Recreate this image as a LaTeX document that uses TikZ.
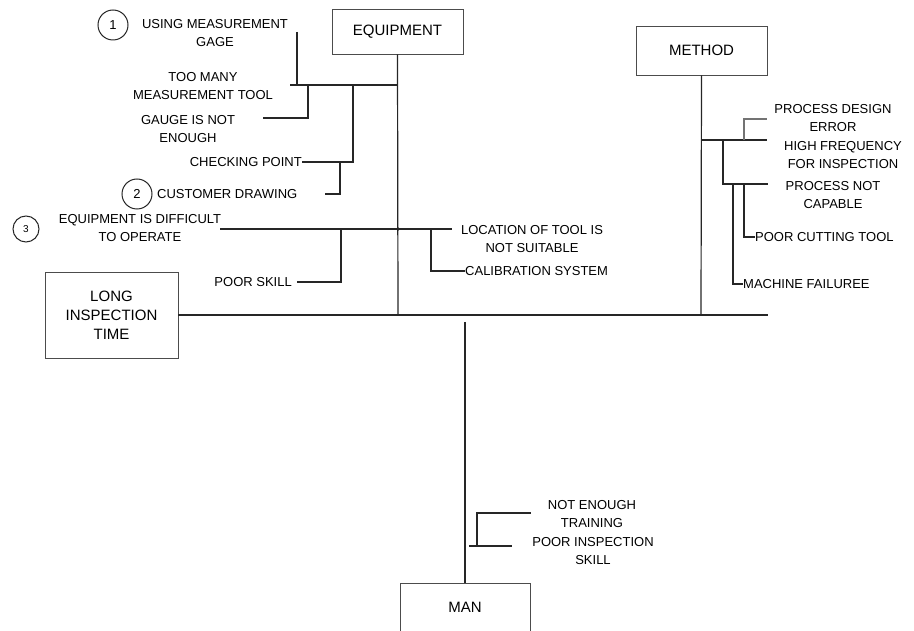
\documentclass[tikz,border=0pt]{standalone}
\usepackage{fontspec}
\setmainfont{Liberation Sans}
\begin{document}
\begin{tikzpicture}[x=1pt,y=-1pt,
  lbl/.style={font=\fontsize{13}{17.5}\selectfont, inner sep=0pt, align=center},
  boxlbl/.style={draw=black!70, line width=0.8pt, font=\fontsize{15}{19}\selectfont, align=center, inner sep=0pt},
  ln/.style={line width=1.2pt, draw=black!85},
  num/.style={circle, draw=black!85, line width=1pt, minimum size=30pt, inner sep=0pt, font=\fontsize{13}{15}\selectfont}]
\useasboundingbox (0,0) rectangle (914,631);
\clip (0,0) rectangle (914,631);

% boxes
\node[boxlbl, minimum width=131pt, minimum height=45pt] (equip) at (397.5,31.5) {EQUIPMENT};
\node[boxlbl, minimum width=131pt, minimum height=49pt] (method) at (701.5,50.5) {METHOD};
\node[boxlbl, minimum width=133pt, minimum height=86pt] (long) at (111.5,315) {LONG\\INSPECTION\\TIME};
\node[boxlbl, minimum width=130pt, minimum height=80pt] (man) at (465,623) {};
\node[lbl, font=\fontsize{15}{19}\selectfont] (manlbl) at (465,607) {MAN};

% numbered circles
\node[num] (c1) at (113,25) {1};
\node[num] (c2) at (137,194) {2};
\node[num, minimum size=26pt, font=\fontsize{10}{12}\selectfont] (c3) at (26,229) {3};

% labels
\node[lbl] (using) at (215,33) {USING MEASUREMENT\\GAGE};
\node[lbl] (toomany) at (203,86) {TOO MANY\\MEASUREMENT TOOL};
\node[lbl] (gauge) at (188,129) {GAUGE IS NOT\\ENOUGH};
\node[lbl, anchor=east] (check) at (302,162) {CHECKING POINT};
\node[lbl, anchor=west] (cust) at (157,194) {CUSTOMER DRAWING};
\node[lbl] (diff) at (140,228) {EQUIPMENT IS DIFFICULT\\TO OPERATE};
\node[lbl, anchor=east] (poorskill) at (292,282) {POOR SKILL};
\node[lbl] (loc) at (532,239) {LOCATION OF TOOL IS\\NOT SUITABLE};
\node[lbl, anchor=west] (calib) at (465,271) {CALIBRATION SYSTEM};
\node[lbl] (design) at (833,118) {PROCESS DESIGN\\ERROR};
\node[lbl] (highfreq) at (843,155) {HIGH FREQUENCY\\FOR INSPECTION};
\node[lbl] (notcap) at (833,195) {PROCESS NOT\\CAPABLE};
\node[lbl, anchor=west] (cutting) at (755,237) {POOR CUTTING TOOL};
\node[lbl, anchor=west] (machine) at (743,284) {MACHINE FAILUREE};
\node[lbl] (training) at (592,514) {NOT ENOUGH\\TRAINING};
\node[lbl] (inspskill) at (593,551) {POOR INSPECTION\\SKILL};

% coordinates
\coordinate (mainR) at (768,315);
\coordinate (eqB) at (398,315);
\coordinate (meB) at (701,315);
\coordinate (manT) at (465,322);
% equipment branches
\coordinate (e1L) at (290,85);
\coordinate (e1R) at (398,85);
\coordinate (u1) at (297,32);
\coordinate (u2) at (297,85);
\coordinate (g1) at (263,118);
\coordinate (g2) at (308,118);
\coordinate (g3) at (308,85);
\coordinate (k1) at (302,162);
\coordinate (k2) at (353,162);
\coordinate (k3) at (353,85);
\coordinate (d1) at (325,194);
\coordinate (d2) at (340,194);
\coordinate (d3) at (340,162);
\coordinate (e2L) at (220,229);
\coordinate (e2R) at (452,229);
\coordinate (jn) at (398,229);
\coordinate (p1) at (297,282);
\coordinate (p2) at (341,282);
\coordinate (p3) at (341,229);
\coordinate (l1) at (431,229);
\coordinate (l2) at (431,271);
% method branches
\coordinate (m1L) at (701,140);
\coordinate (m1R) at (767,140);
\coordinate (pd1) at (744,140);
\coordinate (pd2) at (744,119);
\coordinate (pd3) at (767,119);
\coordinate (pn1) at (723,140);
\coordinate (pn2) at (723,184);
\coordinate (pn3) at (768,184);
\coordinate (ct1) at (744,184);
\coordinate (ct2) at (744,237);
\coordinate (mf1) at (733,184);
\coordinate (mf2) at (733,284);
% man branches
\coordinate (s1) at (469,546);
\coordinate (s2) at (512,546);
\coordinate (t1) at (477,546);
\coordinate (t2) at (477,513);
\coordinate (t3) at (531,513);

% spines
\draw[ln] (long.east) -- (mainR);
\draw[ln] (equip.south) -- (eqB);
\draw[ln] (method.south) -- (meB);
\draw[ln] (manT) -- (man.north);

% equipment
\draw[ln] (e1L) -- (e1R);
\draw[ln] (u1) -- (u2);
\draw[ln] (g1) -- (g2) -- (g3);
\draw[ln] (k1) -- (k2) -- (k3);
\draw[ln] (d1) -- (d2) -- (d3);
\draw[ln] (e2L) -- (e2R);
\fill[black!85] (jn) circle (1.8pt);
\draw[ln] (p1) -- (p2) -- (p3);
\draw[ln] (l1) -- (l2) -- (calib.west);

% method
\draw[ln] (m1L) -- (m1R);
\draw[ln, draw=black!55] (pd1) -- (pd2) -- (pd3);
\draw[ln] (pn1) -- (pn2) -- (pn3);
\draw[ln] (ct1) -- (ct2) -- (cutting.west);
\draw[ln] (mf1) -- (mf2) -- (machine.west);

% man
\draw[ln] (s1) -- (s2);
\draw[ln] (t1) -- (t2) -- (t3);
\end{tikzpicture}
\end{document}
